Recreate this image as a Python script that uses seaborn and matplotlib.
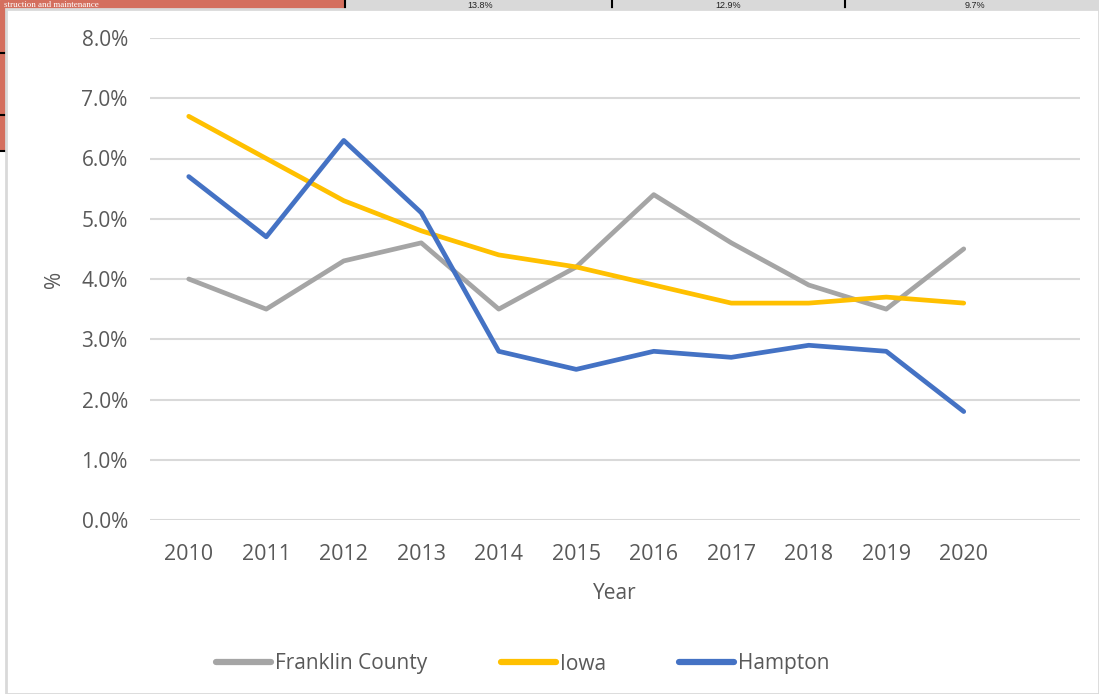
import pandas as pd
import numpy as np
import matplotlib.pyplot as plt
import seaborn as sns
from matplotlib.patches import Rectangle
from matplotlib.lines import Line2D

years = [2010, 2011, 2012, 2013, 2014, 2015, 2016, 2017, 2018, 2019, 2020]
franklin = [4.0, 3.5, 4.3, 4.6, 3.5, 4.2, 5.4, 4.6, 3.9, 3.5, 4.5]
iowa = [6.7, 6.0, 5.3, 4.8, 4.4, 4.2, 3.9, 3.6, 3.6, 3.7, 3.6]
hampton = [5.7, 4.7, 6.3, 5.1, 2.8, 2.5, 2.8, 2.7, 2.9, 2.8, 1.8]
series_names = ['Franklin County', 'Iowa', 'Hampton']
colors = ['#A5A5A5', '#FFC000', '#4472C4']
yticks = [0, 1, 2, 3, 4, 5, 6, 7, 8]

df = pd.DataFrame({'Year': years, 'Franklin County': franklin, 'Iowa': iowa, 'Hampton': hampton})
df_melted = df.melt(id_vars=['Year'], value_vars=series_names, var_name='Series', value_name='Value')
df_melted['pos'] = df_melted['Year'] - years[0]

sns.set_style('white')
plt.rcParams['font.family'] = ['Open Sans', 'DejaVu Sans']

W, H = 1099, 694
fig = plt.figure(figsize=(W / 100, H / 100), dpi=100)

# bits of the document behind the chart (screenshot crop)
def fx(px):
    return px / W

def fy(py):
    return 1 - py / H

fig.patches.append(Rectangle((0, fy(150)), fx(345), fy(0) - fy(150), transform=fig.transFigure,
                             color='#D46F5E', zorder=-3))
fig.patches.append(Rectangle((fx(345), fy(10)), 1 - fx(345), fy(0) - fy(10), transform=fig.transFigure,
                             color='#D9D9D9', zorder=-3))
for xp in [345, 612, 845]:
    fig.lines.append(Line2D([fx(xp), fx(xp)], [fy(0), fy(10)], transform=fig.transFigure,
                            color='black', lw=1.5, zorder=-2))
for yp in [53, 115, 151]:
    fig.lines.append(Line2D([0, fx(8)], [fy(yp), fy(yp)], transform=fig.transFigure,
                            color='black', lw=1.5, zorder=-2))
fig.text(fx(4), fy(5), 'struction and maintenance', color='white', family='Liberation Serif',
         fontsize=6.5, va='center', ha='left', zorder=-2)
for xc, txt in [(480, '13.8%'), (728, '12.9%'), (975, '9.7%')]:
    fig.text(fx(xc), fy(5), txt, color='#222222', family='Liberation Sans', fontsize=6.5,
             va='center', ha='center', zorder=-2)
fig.patches.append(Rectangle((fx(6), 0), 1 - fx(6), fy(9), transform=fig.transFigure,
                             facecolor='white', edgecolor='#D9D9D9', lw=2, zorder=-1))

ax = fig.add_axes([fx(150), fy(520), fx(1080) - fx(150), fy(38) - fy(520)])
ax.patch.set_alpha(0)

sns.lineplot(data=df_melted, x='pos', y='Value', hue='Series', hue_order=series_names,
             palette=colors, linewidth=3.4, ax=ax, legend=False, zorder=3)

ax.set_xlim(-0.5, 11.5)
ax.set_ylim(0, 8)
ax.set_yticks(yticks)
ax.set_yticklabels([f'{v:.1f}%' for v in yticks])
ax.set_xticks(range(len(years)))
ax.set_xticklabels([str(y) for y in years])
ax.grid(axis='y', color='#D9D9D9', lw=1.5)
for s in ax.spines.values():
    s.set_visible(False)
ax.tick_params(axis='both', length=0, colors='#595959')
ax.tick_params(axis='y', pad=16, labelsize=15)
ax.tick_params(axis='x', pad=17, labelsize=15.5)
ax.set_xlabel('Year', fontsize=15, color='#595959', labelpad=13)
ax.set_ylabel('%', fontsize=15, color='#595959', labelpad=12)

handles = [Line2D([], [], color=c, lw=4.5, solid_capstyle='round') for c in colors]
fig.legend(handles, series_names, loc='center', bbox_to_anchor=(fx(523), fy(664)), ncol=3,
           frameon=False, fontsize=15, handlelength=2.65, handletextpad=0.2, columnspacing=3.5,
           labelcolor='#595959')

plt.savefig('out.png', dpi=100)
